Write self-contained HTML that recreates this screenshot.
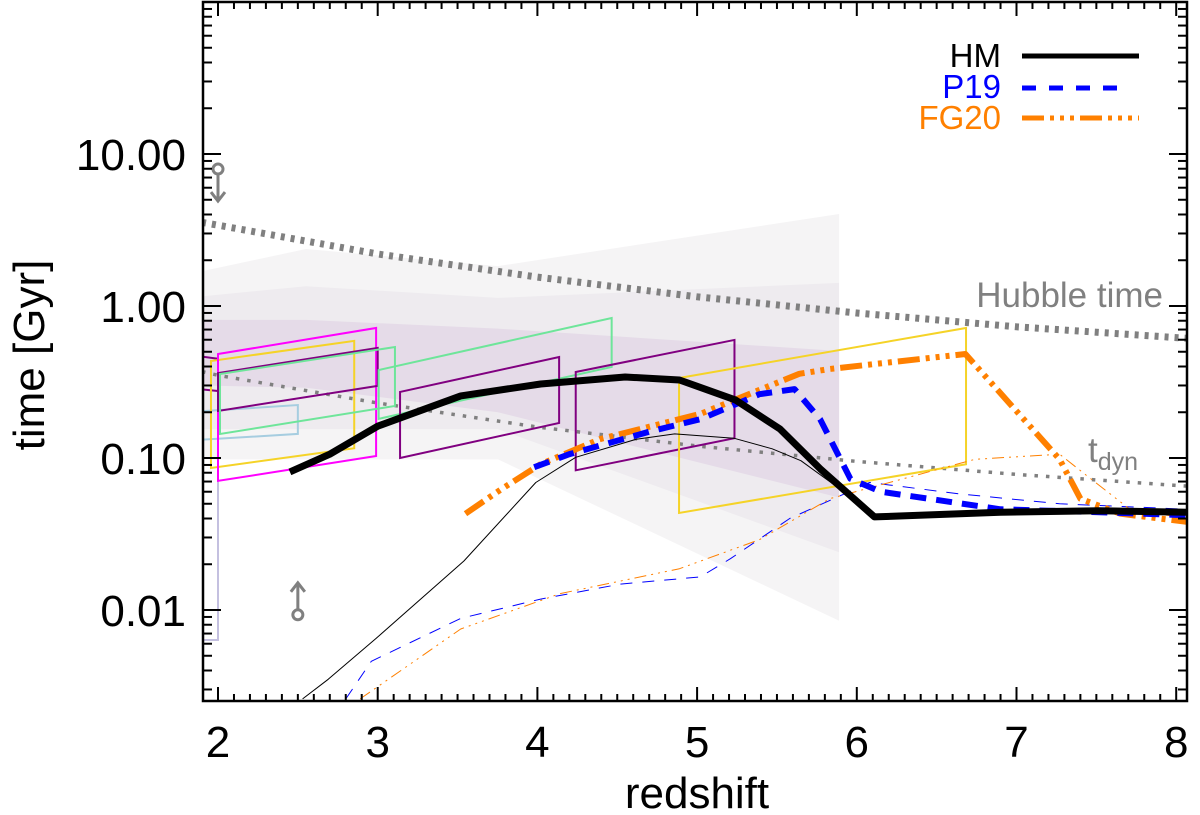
<!DOCTYPE html>
<html><head><meta charset="utf-8">
<style>
html,body{margin:0;padding:0;background:#fff;}
svg{display:block;font-family:"Liberation Sans",Arial,sans-serif;}
</style></head>
<body>
<svg id="chart" width="1200" height="815" viewBox="0 0 1200 815" xmlns="http://www.w3.org/2000/svg">
<defs><clipPath id="plotclip"><rect x="203" y="2" width="985" height="699"/></clipPath></defs>
<g id="plot" clip-path="url(#plotclip)"></g>
<g id="axes"></g>
<text transform="translate(44,355) rotate(-90)" text-anchor="middle" font-size="44">time [Gyr]</text>
<text x="697" y="808" text-anchor="middle" font-size="44">redshift</text>
<text x="1163" y="307" text-anchor="end" font-size="35" fill="#808080">Hubble time</text>
<text x="1088" y="462" font-size="35" fill="#808080">t<tspan font-size="25" dy="8">dyn</tspan></text>
<g>
<text x="1001" y="67" text-anchor="end" font-size="33" fill="#000">HM</text>
<line x1="1022" y1="56" x2="1139" y2="56" stroke="#000" stroke-width="5"/>
<text x="1001" y="98" text-anchor="end" font-size="33" fill="#0000ff">P19</text>
<line x1="1022" y1="88" x2="1125" y2="88" stroke="#0000ff" stroke-width="5" stroke-dasharray="14,13"/>
<text x="1001" y="129" text-anchor="end" font-size="33" fill="#ff8000">FG20</text>
<line x1="1022" y1="118" x2="1139" y2="118" stroke="#ff8000" stroke-width="5" stroke-dasharray="22,6,4,6,4,6,4,6"/>
</g>
</svg>
<script>
// axes: x linear redshift, y log time
const X0 = 218, XPER = 159.7;
const Y1 = 306, YPER = 152;
function xs(z){ return X0 + (z-2)*XPER; }
function ys(t){ return Y1 - Math.log10(t)*YPER; }

// ---- data ----
const hmZ   = [2.45,2.70,3.00,3.52,4.02,4.55,4.89,5.24,5.52,5.77,6.11,6.90,7.52,8.07];
const hmT   = [0.081,0.106,0.162,0.256,0.307,0.341,0.326,0.241,0.155,0.085,0.041,0.044,0.045,0.044];
const hmThinZ = [2.53,2.69,2.99,3.54,3.99,4.24,4.62,4.86,5.23,5.47,5.65,5.89,6.11];
const hmThinT = [0.0026,0.0035,0.0065,0.021,0.069,0.101,0.133,0.144,0.135,0.115,0.096,0.063,0.041];
const p19Z  = [3.98,4.20,4.70,5.02,5.39,5.61,5.77,5.96,6.15,6.90,7.52,8.07];
const p19T  = [0.087,0.106,0.149,0.18,0.263,0.284,0.18,0.073,0.06,0.046,0.044,0.042];
const p19ThinZ = [2.80,2.96,3.52,4.02,4.52,5.02,5.21,5.58,6.08,6.65,7.27,8.07];
const p19ThinT = [0.0026,0.0046,0.0088,0.0118,0.0148,0.0165,0.0218,0.040,0.069,0.058,0.050,0.046];
const fgZ   = [3.55,3.77,4.02,4.39,5.02,5.64,5.83,6.68,7.27,7.40,7.65,8.07];
const fgT   = [0.043,0.062,0.091,0.133,0.195,0.358,0.385,0.483,0.098,0.054,0.043,0.038];
const fgThinZ = [2.89,3.52,4.14,4.89,5.39,5.83,6.74,7.27,7.43,7.71,8.07];
const fgThinT = [0.0026,0.0075,0.0128,0.0187,0.029,0.054,0.098,0.106,0.078,0.046,0.040];
const hubbleZ = [1.9,2,3,4,5,6,7,8,8.1];
const hubbleT = [3.55,3.4,2.2,1.55,1.15,0.9,0.73,0.62,0.61];
const tdynZ = [1.9,2,3,4,5,6,7,8,8.1];
const tdynT = [0.37,0.35,0.23,0.16,0.12,0.095,0.078,0.066,0.065];
const bandZ = [1.906,2.551,3.753,5.889];
const outerHi = [1.70,2.37,1.83,4.03];
const outerLo = [0.098,0.098,0.098,0.0085];
const midHi   = [1.16,1.35,1.13,1.42];
const midLo   = [0.155,0.155,0.155,0.024];
const purpHi  = [0.81,0.81,0.71,0.506];
const purpLo  = [0.30,0.29,0.20,0.055];
const boxNames = ['box-lightblue','box-purple-left','box-yellow-1','box-magenta','box-purple-a','box-green-1','box-green-2','box-purple-b','box-purple-c','box-yellow-2'];
const boxColors = ['#a6cde0','#800080','#f5d327','#ff00ff','#800080','#6ee59a','#6ee59a','#800080','#800080','#f5d327'];
const boxZL = [1.80,1.80,1.956,2.00,2.00,2.0125,3.006,3.14,4.24,4.887];
const boxZR = [2.50,2.00,2.853,2.99,3.00,3.108,4.465,4.136,5.234,6.684];
const boxTL = [0.20,0.48,0.435,0.483,0.362,0.357,0.379,0.272,0.368,0.336];
const boxBL = [0.13,0.29,0.086,0.0707,0.204,0.144,0.181,0.100,0.083,0.0435];
const boxTR = [0.223,0.45,0.589,0.717,0.530,0.537,0.834,0.462,0.598,0.717];
const boxBR = [0.144,0.276,0.116,0.103,0.298,0.220,0.397,0.170,0.135,0.091];
const limZ = [2.0,2.5];
const limT = [7.96,0.0093];
const limDir = [1,-1];

const NS='http://www.w3.org/2000/svg';
const plot=document.getElementById('plot');
const axes=document.getElementById('axes');
function mk(tag,attrs,parent){const e=document.createElementNS(NS,tag);for(const k in attrs)e.setAttribute(k,attrs[k]);parent.appendChild(e);return e;}
function pts(zs,ts){return zs.map((z,i)=>xs(z).toFixed(1)+','+ys(ts[i]).toFixed(1)).join(' ');}
function band(hi,lo,fill,name){
  const p=bandZ.map((z,i)=>xs(z)+','+ys(hi[i])).concat(bandZ.slice().reverse().map((z,j)=>{const i=bandZ.length-1-j;return xs(z)+','+ys(lo[i]);}));
  const e=mk('polygon',{points:p.join(' '),fill:fill},plot);
  
  
}
band(outerHi,outerLo,'#f5f4f5','band-outer');
band(midHi,midLo,'#eeebef','band-middle');
band(purpHi,purpLo,'#e5dbe8','band-inner');

function line(zs,ts,stroke,w,dash,name){
  const e=mk('polyline',{points:pts(zs,ts),fill:'none',stroke:stroke,'stroke-width':w,'stroke-linejoin':'round'},plot);
  if(dash)e.setAttribute('stroke-dasharray',dash);
  
  
}
line(hubbleZ,hubbleT,'#808080',7,'4,6','hubble-time-line');
line(tdynZ,tdynT,'#808080',3.5,'3.5,8','tdyn-line');

const lv=mk('polyline',{points:`203,640 ${xs(2)},640 ${xs(2)},470`,fill:'none',stroke:'#c4c0e0','stroke-width':2},plot);



for(let i=0;i<boxNames.length;i++){
  const p=[xs(boxZL[i])+','+ys(boxTL[i]),xs(boxZR[i])+','+ys(boxTR[i]),xs(boxZR[i])+','+ys(boxBR[i]),xs(boxZL[i])+','+ys(boxBL[i])];
  const e=mk('polygon',{points:p.join(' '),fill:'none',stroke:boxColors[i],'stroke-width':2},plot);
  
  
}

line(hmThinZ,hmThinT,'#000',1,null,'hm-thin-line');
line(p19ThinZ,p19ThinT,'#0000ff',1,'12,10','p19-thin-line');
line(fgThinZ,fgThinT,'#ff8000',1,'12,5,2,5,2,5,2,5','fg20-thin-line');
line(fgZ,fgT,'#ff8000',6,'22,6,4,6,4,6,4,6','fg20-line');
line(p19Z,p19T,'#0000ff',6,'16,10','p19-line');
line(hmZ,hmT,'#000',7,null,'hm-line');

for(let i=0;i<limZ.length;i++){
  const cx=xs(limZ[i]),cy=ys(limT[i]),d=limDir[i];
  const g=mk('g',{stroke:'#808080','stroke-width':3,fill:'none'},plot);
  
  
  mk('circle',{cx:cx,cy:cy,r:5},g);
  const ty=cy+d*32;
  mk('line',{x1:cx,y1:cy+d*5,x2:cx,y2:ty},g);
  mk('polyline',{points:`${cx-7},${ty-d*9} ${cx},${ty} ${cx+7},${ty-d*9}`},g);
}

const L=203,R=1187,T=2,B=701;
const fr=mk('rect',{x:L,y:T,width:R-L,height:B-T,fill:'none',stroke:'#000','stroke-width':2.5},axes);


const xTickLabels=['2','3','4','5','6','7','8'];
for(let k=19;k<=81;k++){
  const z=k/10; const x=xs(z); if(x<L||x>R)continue;
  const major=(k%10===0), len=major?14:7;
  mk('line',{x1:x,y1:B,x2:x,y2:B-len,stroke:'#000','stroke-width':2},axes);
  mk('line',{x1:x,y1:T,x2:x,y2:T+len,stroke:'#000','stroke-width':2},axes);
}
xTickLabels.forEach(s=>{
  const t=mk('text',{x:xs(+s),y:757,'text-anchor':'middle','font-size':44},axes);
  t.textContent=s;
  
  
});
const yTickLabels=['0.01','0.10','1.00','10.00'];
const yTickVals=[0.01,0.1,1,10];
for(let dec=-3;dec<=2;dec++){
  for(let m=1;m<=9;m++){
    const v=m*Math.pow(10,dec), y=ys(v); if(y<T||y>B)continue;
    const len=m===1?18:9;
    mk('line',{x1:L,y1:y,x2:L+len,y2:y,stroke:'#000','stroke-width':2},axes);
    mk('line',{x1:R,y1:y,x2:R-len,y2:y,stroke:'#000','stroke-width':2},axes);
  }
}
yTickVals.forEach((v,i)=>{
  const t=mk('text',{x:186,y:ys(v)+16,'text-anchor':'end','font-size':44},axes);
  t.textContent=yTickLabels[i];
  
  
});
</script>
</body></html>
